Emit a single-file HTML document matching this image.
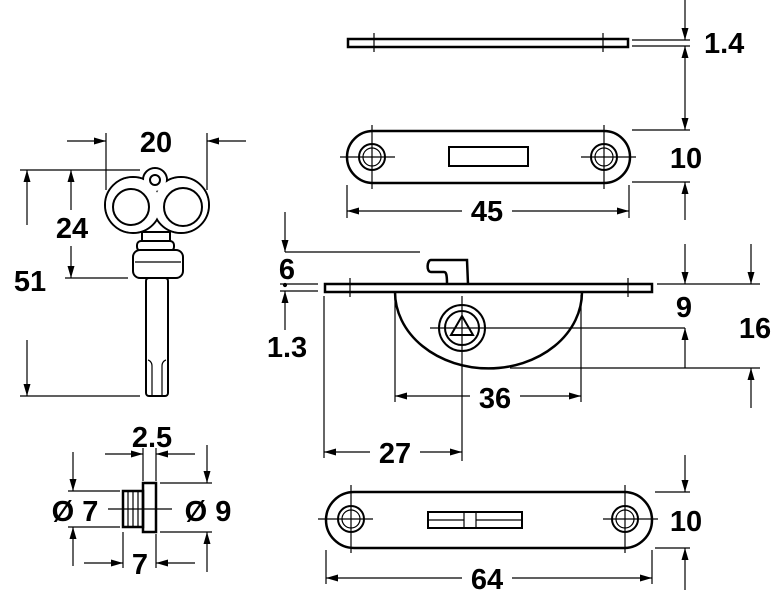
<!DOCTYPE html>
<html><head><style>body{margin:0;background:#fff}svg{display:block}text{font-family:"Liberation Sans",Arial,sans-serif;font-weight:bold;fill:#000}</style></head><body>
<svg width="780" height="600" viewBox="0 0 780 600" xmlns="http://www.w3.org/2000/svg">
<g stroke="#000" stroke-width="1.2" fill="none">
<rect x="348" y="39" width="280" height="8" stroke-width="2.5"/>
<line x1="374" y1="33" x2="374" y2="52"/><line x1="603" y1="33" x2="603" y2="52"/>
<line x1="632" y1="40" x2="690" y2="40"/><line x1="632" y1="46" x2="690" y2="46"/>
<line x1="685" y1="0" x2="685" y2="40"/>
<line x1="685" y1="46" x2="685" y2="130"/>
<rect x="347" y="131" width="283" height="52" rx="26" stroke-width="2.5"/>
<circle cx="372" cy="157" r="13" stroke-width="2"/><circle cx="372" cy="157" r="9"/>
<circle cx="604" cy="157" r="13" stroke-width="2"/><circle cx="604" cy="157" r="9"/>
<path d="M340,157h55M581,157h55M372,125v64M604,125v64"/>
<rect x="449" y="147" width="79" height="19" stroke-width="2"/>
<line x1="632" y1="130" x2="690" y2="130"/><line x1="632" y1="182" x2="690" y2="182"/>
<line x1="685" y1="220" x2="685" y2="182"/>
<line x1="347" y1="185" x2="347" y2="218"/><line x1="629" y1="185" x2="629" y2="218"/>
<line x1="347" y1="211" x2="629" y2="211"/>
<circle cx="133" cy="205" r="28" stroke-width="2"/><circle cx="181" cy="205" r="28" stroke-width="2"/>
<circle cx="155" cy="180" r="12" stroke-width="2"/>
<circle cx="133" cy="205" r="27" fill="#fff" stroke="none"/><circle cx="181" cy="205" r="27" fill="#fff" stroke="none"/>
<circle cx="155" cy="180" r="11" fill="#fff" stroke="none"/>
<circle cx="155" cy="180" r="5" stroke-width="2"/>
<circle cx="131" cy="207" r="18" stroke-width="2"/><circle cx="183" cy="207" r="19" stroke-width="2"/>
<rect x="142" y="232" width="28" height="10" fill="#fff" stroke-width="2"/>
<rect x="137" y="241" width="37" height="10" rx="4" fill="#fff" stroke-width="2"/>
<rect x="133" y="250" width="50" height="28" rx="7" fill="#fff" stroke-width="2"/>
<line x1="135" y1="262" x2="181" y2="262"/>
<rect x="146" y="278" width="22" height="118" rx="3" stroke-width="2"/>
<path d="M152,396v-30c0,-5 -4,-6 -4,-6M162,396v-30c0,-5 4,-6 4,-6"/>
<line x1="20" y1="170" x2="140" y2="170"/><line x1="20" y1="396" x2="140" y2="396"/>
<line x1="65" y1="278" x2="128" y2="278"/>
<line x1="27" y1="225" x2="27" y2="170"/><line x1="27" y1="340" x2="27" y2="396"/>
<line x1="71" y1="210" x2="71" y2="170"/><line x1="71" y1="245" x2="71" y2="278"/>
<line x1="106" y1="133" x2="106" y2="190"/><line x1="207" y1="133" x2="207" y2="190"/>
<line x1="67" y1="141" x2="106" y2="141"/><line x1="246" y1="141" x2="207" y2="141"/>
<rect x="325" y="284" width="327" height="8" stroke-width="2.5"/>
<line x1="350" y1="278" x2="350" y2="297"/><line x1="628" y1="278" x2="628" y2="297"/>
<path d="M395,292 A93,76 0 0 0 582,292" stroke-width="2.5"/>
<path d="M468,284l-1,-24h-36c-4,0 -5,12 0,12h13c2,0 3,2 3,12" stroke-width="2.5"/>
<circle cx="462" cy="328" r="23" fill="#fff" stroke-width="2"/><circle cx="462" cy="328" r="17" stroke-width="2"/>
<path d="M462,316l11,19h-22z" stroke-width="2"/>
<path d="M430,328h255M462,296v165"/>
<line x1="395" y1="295" x2="395" y2="402"/><line x1="581" y1="295" x2="581" y2="402"/>
<line x1="470" y1="396" x2="395" y2="396"/><line x1="520" y1="396" x2="581" y2="396"/>
<line x1="324" y1="296" x2="324" y2="458"/>
<line x1="370" y1="452" x2="324" y2="452"/><line x1="420" y1="452" x2="462" y2="452"/>
<line x1="285" y1="252" x2="420" y2="252"/>
<line x1="280" y1="284" x2="318" y2="284"/><line x1="280" y1="291" x2="318" y2="291"/>
<line x1="285" y1="212" x2="285" y2="252"/>
<line x1="285" y1="330" x2="285" y2="291"/>
<circle cx="285" cy="285" r="1.5" fill="#000"/>
<line x1="657" y1="284" x2="760" y2="284"/><line x1="510" y1="368" x2="760" y2="368"/>
<line x1="685" y1="244" x2="685" y2="284"/>
<line x1="685" y1="368" x2="685" y2="328"/>
<line x1="751" y1="244" x2="751" y2="284"/>
<line x1="751" y1="408" x2="751" y2="368"/>
<line x1="685" y1="455" x2="685" y2="492"/>
<rect x="123" y="491" width="20" height="36" stroke-width="2.5"/>
<rect x="143" y="483" width="13" height="49" stroke-width="2.5"/>
<path d="M128,491v36M133,491v36M138,491v36M108,509h64"/>
<line x1="68" y1="491" x2="120" y2="491"/><line x1="68" y1="527" x2="120" y2="527"/>
<line x1="160" y1="483" x2="212" y2="483"/><line x1="160" y1="532" x2="212" y2="532"/>
<line x1="73" y1="452" x2="73" y2="491"/><line x1="73" y1="566" x2="73" y2="527"/>
<line x1="207" y1="445" x2="207" y2="483"/><line x1="207" y1="572" x2="207" y2="532"/>
<line x1="143" y1="448" x2="143" y2="481"/><line x1="156" y1="448" x2="156" y2="481"/>
<line x1="105" y1="454" x2="143" y2="454"/><line x1="195" y1="454" x2="156" y2="454"/>
<line x1="123" y1="532" x2="123" y2="568"/><line x1="156" y1="534" x2="156" y2="568"/>
<line x1="84" y1="563" x2="123" y2="563"/><line x1="195" y1="563" x2="156" y2="563"/>
<rect x="326" y="492" width="326" height="56" rx="28" stroke-width="2.5"/>
<circle cx="351" cy="519" r="13" stroke-width="2"/><circle cx="351" cy="519" r="9"/>
<circle cx="625" cy="519" r="13" stroke-width="2"/><circle cx="625" cy="519" r="9"/>
<path d="M318,519h55M603,519h55M351,485v68M625,485v68"/>
<rect x="428" y="512" width="94" height="16" stroke-width="2"/>
<path d="M464,512v16M476,512v16M428,520h36M476,520h46"/>
<line x1="655" y1="492" x2="690" y2="492"/><line x1="655" y1="548" x2="690" y2="548"/>
<line x1="685" y1="590" x2="685" y2="548"/>
<line x1="326" y1="550" x2="326" y2="584"/><line x1="652" y1="550" x2="652" y2="584"/>
<line x1="326" y1="578" x2="652" y2="578"/>
</g>
<g fill="#000">
<polygon points="681.5,28 688.5,28 685,40"/>
<polygon points="681.5,118 688.5,118 685,130"/>
<polygon points="281.5,240 288.5,240 285,252"/>
<polygon points="681.5,272 688.5,272 685,284"/>
<polygon points="747.5,272 754.5,272 751,284"/>
<polygon points="681.5,480 688.5,480 685,492"/>
<polygon points="69.5,479 76.5,479 73,491"/>
<polygon points="203.5,471 210.5,471 207,483"/>
<polygon points="23.5,384 30.5,384 27,396"/>
<polygon points="67.5,266 74.5,266 71,278"/>
<polygon points="681.5,58 688.5,58 685,46"/>
<polygon points="681.5,194 688.5,194 685,182"/>
<polygon points="281.5,303 288.5,303 285,291"/>
<polygon points="681.5,340 688.5,340 685,328"/>
<polygon points="747.5,380 754.5,380 751,368"/>
<polygon points="681.5,560 688.5,560 685,548"/>
<polygon points="69.5,539 76.5,539 73,527"/>
<polygon points="203.5,544 210.5,544 207,532"/>
<polygon points="23.5,182 30.5,182 27,170"/>
<polygon points="67.5,182 74.5,182 71,170"/>
<polygon points="359,207.5 359,214.5 347,211"/>
<polygon points="407,392.5 407,399.5 395,396"/>
<polygon points="336,448.5 336,455.5 324,452"/>
<polygon points="338,574.5 338,581.5 326,578"/>
<polygon points="219,137.5 219,144.5 207,141"/>
<polygon points="168,450.5 168,457.5 156,454"/>
<polygon points="168,559.5 168,566.5 156,563"/>
<polygon points="617,207.5 617,214.5 629,211"/>
<polygon points="569,392.5 569,399.5 581,396"/>
<polygon points="450,448.5 450,455.5 462,452"/>
<polygon points="640,574.5 640,581.5 652,578"/>
<polygon points="94,137.5 94,144.5 106,141"/>
<polygon points="131,450.5 131,457.5 143,454"/>
<polygon points="111,559.5 111,566.5 123,563"/>
</g>
<g font-size="29">
<rect x="462" y="196" width="50" height="32" fill="#fff"/><text x="487" y="221" text-anchor="middle">45</text>
<text x="704" y="53">1.4</text>
<text x="686" y="168" text-anchor="middle">10</text>
<text x="156" y="152" text-anchor="middle">20</text>
<rect x="48" y="210" width="48" height="36" fill="#fff"/><text x="72" y="238" text-anchor="middle">24</text>
<rect x="4" y="262" width="52" height="38" fill="#fff"/><text x="30" y="291" text-anchor="middle">51</text>
<text x="287" y="279" text-anchor="middle">6</text>
<text x="287" y="357" text-anchor="middle">1.3</text>
<text x="684" y="317" text-anchor="middle">9</text>
<text x="755" y="338" text-anchor="middle">16</text>
<rect x="470" y="381" width="50" height="34" fill="#fff"/><text x="495" y="408" text-anchor="middle">36</text>
<rect x="370" y="437" width="50" height="34" fill="#fff"/><text x="395" y="463" text-anchor="middle">27</text>
<text x="152" y="447" text-anchor="middle">2.5</text>
<text x="75" y="521" text-anchor="middle">Ø 7</text>
<text x="208" y="521" text-anchor="middle">Ø 9</text>
<text x="140" y="574" text-anchor="middle">7</text>
<text x="686" y="531" text-anchor="middle">10</text>
<rect x="462" y="563" width="50" height="32" fill="#fff"/><text x="487" y="589" text-anchor="middle">64</text>
</g>
</svg>
</body></html>
